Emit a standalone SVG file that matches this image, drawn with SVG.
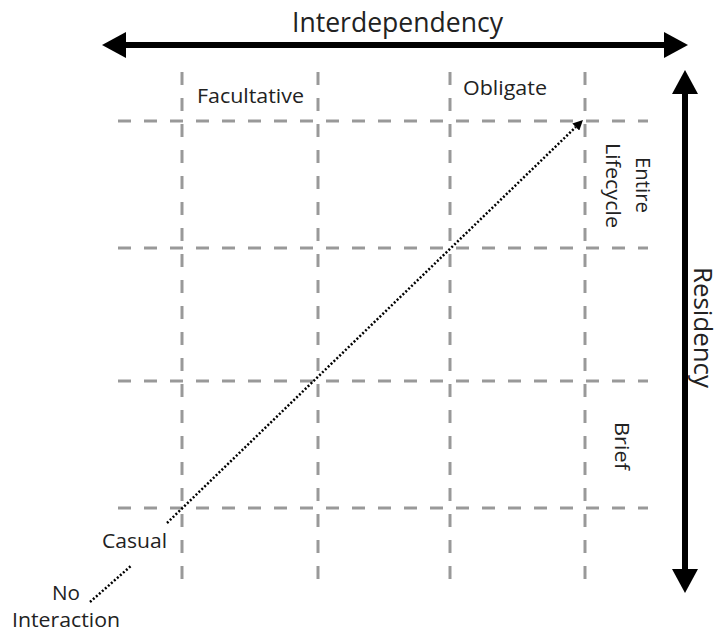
<svg xmlns="http://www.w3.org/2000/svg" width="723" height="636" viewBox="0 0 723 636">
<style>
.grid{stroke:#999;stroke-width:3;stroke-dasharray:13 13;fill:none}
.axis{stroke:#000;stroke-width:6;fill:none}
.dot{stroke:#000;stroke-width:2.5;stroke-dasharray:2 2;fill:none}
text{font-family:"Open Sans","Noto Sans",sans-serif;fill:#222}
.t{font-size:20px}
.big{font-size:28px}
</style>
<defs>
<marker id="ah" viewBox="0 0 24 26" refX="0" refY="13" markerWidth="24" markerHeight="26" markerUnits="userSpaceOnUse" orient="auto-start-reverse"><path d="M0,0 L24,13 L0,26 z" fill="#000"/></marker>
<marker id="dh" viewBox="0 0 10 10" refX="0" refY="5" markerWidth="10" markerHeight="10" markerUnits="userSpaceOnUse" orient="auto"><path d="M0,0 L10,5 L0,10 z" fill="#000"/></marker>
</defs>
<rect width="723" height="636" fill="#fff"/>
<g id="grid">
<line class="grid" x1="182" y1="72" x2="182" y2="586"/>
<line class="grid" x1="318" y1="72" x2="318" y2="586"/>
<line class="grid" x1="450" y1="72" x2="450" y2="586"/>
<line class="grid" x1="585" y1="72" x2="585" y2="586"/>
<line class="grid" x1="118" y1="121" x2="648" y2="121"/>
<line class="grid" x1="118" y1="248" x2="648" y2="248"/>
<line class="grid" x1="118" y1="381" x2="648" y2="381"/>
<line class="grid" x1="118" y1="508" x2="648" y2="508"/>
</g>
<g id="connectors">
<line class="axis" x1="126" y1="45" x2="664" y2="45" marker-start="url(#ah)" marker-end="url(#ah)"/>
<line class="axis" x1="685" y1="94" x2="685" y2="569" marker-start="url(#ah)" marker-end="url(#ah)"/>
<line class="dot" x1="167" y1="523" x2="575.8" y2="127" marker-end="url(#dh)"/>
<line class="dot" x1="90" y1="602" x2="132" y2="565"/>
</g>
<g id="labels">
<text class="big" x="292" y="32" textLength="211" lengthAdjust="spacingAndGlyphs">Interdependency</text>
<text class="big" style="font-size:26px" transform="translate(694,267) rotate(90)" textLength="121" lengthAdjust="spacingAndGlyphs">Residency</text>
<text class="t" x="197" y="103" textLength="107" lengthAdjust="spacingAndGlyphs">Facultative</text>
<text class="t" x="463" y="95" textLength="84" lengthAdjust="spacingAndGlyphs">Obligate</text>
<text class="t" transform="translate(636,157) rotate(90)" textLength="56" lengthAdjust="spacingAndGlyphs">Entire</text>
<text class="t" transform="translate(606,143) rotate(90)" textLength="85" lengthAdjust="spacingAndGlyphs">Lifecycle</text>
<text class="t" transform="translate(615,422) rotate(90)" textLength="48" lengthAdjust="spacingAndGlyphs">Brief</text>
<text class="t" x="102" y="548" textLength="65" lengthAdjust="spacingAndGlyphs">Casual</text>
<text class="t" x="52" y="600" textLength="28" lengthAdjust="spacingAndGlyphs">No</text>
<text class="t" x="12" y="627" textLength="108" lengthAdjust="spacingAndGlyphs">Interaction</text>
</g>
</svg>
